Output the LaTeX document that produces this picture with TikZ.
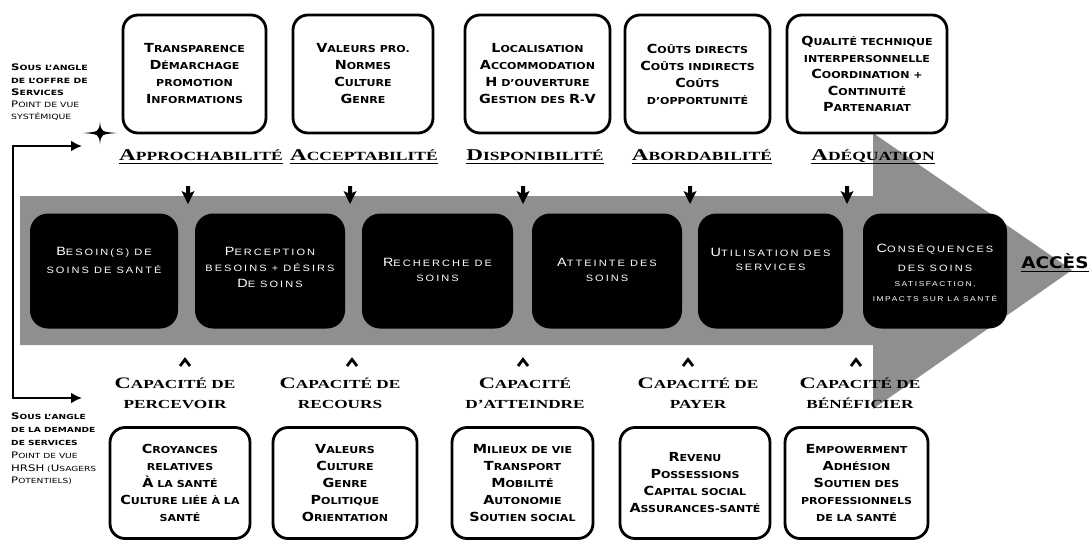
\documentclass[tikz,border=0pt]{standalone}
\usepackage{fontspec}
\setmainfont{Liberation Serif}
\newfontfamily\bxf[FakeStretch=1.15]{DejaVu Sans}
\newfontfamily\lbf[FakeStretch=1.4]{Liberation Serif}
\newfontfamily\dkf[FakeStretch=1.2,LetterSpace=22]{Liberation Sans}
\newfontfamily\lff[FakeStretch=1.3]{DejaVu Sans}
\usetikzlibrary{calc,arrows.meta}
\newcommand\BX[1]{{\fontsize{12.5}{17}\selectfont #1}}
\newcommand\LB[1]{{\fontsize{16.5}{18}\selectfont #1}}
\newcommand\CB[1]{{\fontsize{16}{20}\selectfont #1}}
\newcommand\DK[1]{{\fontsize{12}{18}\selectfont #1}}
\newcommand\LF[1]{{\fontsize{9}{12}\selectfont #1}}
\newcommand\ulx[1]{\setbox0=\hbox{#1}\rlap{\rule[-3.5pt]{\wd0}{1.4pt}}\box0}
\definecolor{bandgray}{gray}{0.56}
\tikzset{
  topbox/.style={draw=black, line width=2.8pt, rounded corners=15pt, fill=white, align=center, inner sep=0pt,
    font=\bxf\bfseries\fontsize{9.6}{17}\selectfont},
  darkbox/.style={fill=black, rounded corners=18pt, minimum width=148pt, minimum height=115pt, inner sep=0pt},
  darktext/.style={text=white, align=center, font=\dkf\fontsize{9.2}{18}\selectfont},
  lab/.style={font=\lbf\bfseries\fontsize{12.5}{18}\selectfont, inner sep=0pt},
  capl/.style={font=\lbf\bfseries\fontsize{12.3}{20}\selectfont, align=center, inner sep=0pt},
  side/.style={font=\lff\fontsize{7.2}{12.2}\selectfont, align=left, inner sep=0pt, anchor=north west},
  conn/.style={line width=2.6pt},
  dnarrow/.pic={\fill[black] (-2,-10) -- (2,-10) -- (2,-3) -- (6.5,-5) -- (0,8) -- (-6.5,-5) -- (-2,-3) -- cycle;},
  chevron/.pic={\draw[line width=2.8pt, line join=miter] (-5,4) -- (0,-2.5) -- (5,4);},
  sparkle/.pic={\fill[black] (0,-11) .. controls (1.2,-1.2) .. (17,0) .. controls (1.2,1.2) .. (0,11) .. controls (-1.2,1.2) .. (-17,0) .. controls (-1.2,-1.2) .. (0,-11) -- cycle;}
}
\begin{document}
\begin{tikzpicture}[x=1pt, y=-1pt]
\useasboundingbox (0,0) rectangle (1090,539);
% big arrow
\fill[bandgray] (20,196) -- (873,196) -- (873,133) -- (1072,270) -- (873,409) -- (873,345) -- (20,345) -- cycle;

% top boxes
\node[topbox, minimum width=143pt, minimum height=118pt] (t1) at (194.5,74) {\BX{T}RANSPARENCE\\ \BX{D}ÉMARCHAGE\\ PROMOTION\\ \BX{I}NFORMATIONS};
\node[topbox, minimum width=140pt, minimum height=118pt] (t2) at (363,74) {\BX{V}ALEURS PRO.\\ \BX{N}ORMES\\ \BX{C}ULTURE\\ \BX{G}ENRE};
\node[topbox, minimum width=145pt, minimum height=118pt] (t3) at (537.5,74) {\BX{L}OCALISATION\\ \BX{A}CCOMMODATION\\ \BX{H} D’OUVERTURE\\ \BX{G}ESTION DES \BX{R}-\BX{V}};
\node[topbox, minimum width=145pt, minimum height=118pt] (t4) at (697.5,74) {\BX{C}OÛTS DIRECTS\\ \BX{C}OÛTS INDIRECTS\\ \BX{C}OÛTS\\ D’OPPORTUNITÉ};
\node[topbox, minimum width=160pt, minimum height=118pt, font=\bxf\bfseries\fontsize{9.6}{16.5}\selectfont] (t5) at (867,74) {\BX{Q}UALITÉ TECHNIQUE\\ INTERPERSONNELLE\\ \BX{C}OORDINATION +\\ \BX{C}ONTINUITÉ\\ \BX{P}ARTENARIAT};

% top labels
\node[lab] (l1) at (201,157) {\ulx{\LB{A}PPROCHABILITÉ}};
\node[lab] (l2) at (364,157) {\ulx{\LB{A}CCEPTABILITÉ}};
\node[lab] (l3) at (535,157) {\ulx{\LB{D}ISPONIBILITÉ}};
\node[lab] (l4) at (702,157) {\ulx{\LB{A}BORDABILITÉ}};
\node[lab] (l5) at (873,157) {\ulx{\LB{A}DÉQUATION}};

% dark boxes
\node[darkbox] (d1) at (104,271) {};
\node[darkbox, minimum width=150pt] (d2) at (270,271) {};
\node[darkbox, minimum width=151pt] (d3) at (437.5,271) {};
\node[darkbox, minimum width=150pt] (d4) at (607,271) {};
\node[darkbox, minimum width=145pt] (d5) at (770.5,271) {};
\node[darkbox, minimum width=144pt] (d6) at (935,271) {};
\node[darktext] (d1t) at ($(d1.center)+(0,-11)$) {\DK{B}ESOIN(S) DE\\ SOINS DE SANTÉ};
\node[darktext, font=\dkf\fontsize{9.2}{16}\selectfont] (d2t) at ($(d2.center)+(0,-4)$) {\DK{P}ERCEPTION\\ BESOINS + DÉSIRS\\ \DK{D}E SOINS};
\node[darktext, font=\dkf\fontsize{9.2}{15}\selectfont] (d3t) at ($(d3.center)+(0,-1)$) {\DK{R}ECHERCHE DE\\ SOINS};
\node[darktext, font=\dkf\fontsize{9.2}{15}\selectfont] (d4t) at ($(d4.center)+(0,-1)$) {\DK{A}TTEINTE DES\\ SOINS};
\node[darktext, font=\dkf\fontsize{9.2}{14}\selectfont] (d5t) at ($(d5.center)+(0,-12)$) {\DK{U}TILISATION DES\\ SERVICES};
\node[darktext, font=\dkf\fontsize{9.2}{19}\selectfont] (d6t) at ($(d6.center)+(0,-13)$) {\DK{C}ONSÉQUENCES\\ DES SOINS};
\node[darktext, font=\dkf\fontsize{7}{15}\selectfont] (d6s) at ($(d6.center)+(0,21)$) {SATISFACTION,\\ IMPACTS SUR LA SANTÉ};

% small arrows
\foreach \x in {188,350,523,690,847} { \pic at (\x,196) {dnarrow}; }
\foreach \x in {185,352,523,688,856} { \pic at (\x,362) {chevron}; }

% bottom labels
\node[capl] (c1) at (175,393) {\CB{C}APACITÉ DE\\ PERCEVOIR};
\node[capl] (c2) at (340,393) {\CB{C}APACITÉ DE\\ RECOURS};
\node[capl] (c3) at (525,393) {\CB{C}APACITÉ\\ D’ATTEINDRE};
\node[capl] (c4) at (698,393) {\CB{C}APACITÉ DE\\ PAYER};
\node[capl] (c5) at (860,393) {\CB{C}APACITÉ DE\\ BÉNÉFICIER};

% bottom boxes
\node[topbox, minimum width=140pt, minimum height=111pt] (u1) at (180,483) {\BX{C}ROYANCES\\ RELATIVES\\ \BX{À} LA SANTÉ\\ \BX{C}ULTURE LIÉE À LA\\ SANTÉ};
\node[topbox, minimum width=144pt, minimum height=111pt] (u2) at (345,483) {\BX{V}ALEURS\\ \BX{C}ULTURE\\ \BX{G}ENRE\\ \BX{P}OLITIQUE\\ \BX{O}RIENTATION};
\node[topbox, minimum width=141pt, minimum height=111pt] (u3) at (522.5,483) {\BX{M}ILIEUX DE VIE\\ \BX{T}RANSPORT\\ \BX{M}OBILITÉ\\ \BX{A}UTONOMIE\\ \BX{S}OUTIEN SOCIAL};
\node[topbox, minimum width=150pt, minimum height=111pt] (u4) at (695,483) {\BX{R}EVENU\\ \BX{P}OSSESSIONS\\ \BX{C}APITAL SOCIAL\\ \BX{A}SSURANCES-SANTÉ};
\node[topbox, minimum width=143pt, minimum height=111pt] (u5) at (856.5,483) {\BX{E}MPOWERMENT\\ \BX{A}DHÉSION\\ \BX{S}OUTIEN DES\\ PROFESSIONNELS\\ DE LA SANTÉ};

% ACCES
\node[font=\bxf\bfseries\fontsize{16}{18}\selectfont, inner sep=0pt] (acc) at (1055,263) {\ulx{ACCÈS}};

% side texts
\node[side] (s1) at (11,64) {\bfseries\LF{S}OUS L’ANGLE\\ \bfseries DE L’OFFRE DE\\ \bfseries\LF{S}ERVICES\\ \mdseries\LF{P}OINT DE VUE\\ \mdseries SYSTÉMIQUE};
\node[side, font=\lff\fontsize{7}{12.8}\selectfont] (s2) at (11,413) {\bfseries\LF{S}OUS L’ANGLE\\ \bfseries DE LA DEMANDE\\ \bfseries DE SERVICES\\ \mdseries\LF{P}OINT DE VUE\\ \mdseries\LF{HRSH} (\LF{U}SAGERS\\ \mdseries\LF{P}OTENTIELS)};

% sparkle
\pic at (100,133) {sparkle};

% left connector
\coordinate (ca) at (82,146);
\coordinate (c1a) at (13,146);
\coordinate (c2a) at (13,398);
\coordinate (cb) at (82,398);
\draw[conn, {Latex[length=11pt,width=11pt]}-{Latex[length=11pt,width=11pt]}] (ca) -- (c1a) -- (c2a) -- (cb);
\end{tikzpicture}
\end{document}
